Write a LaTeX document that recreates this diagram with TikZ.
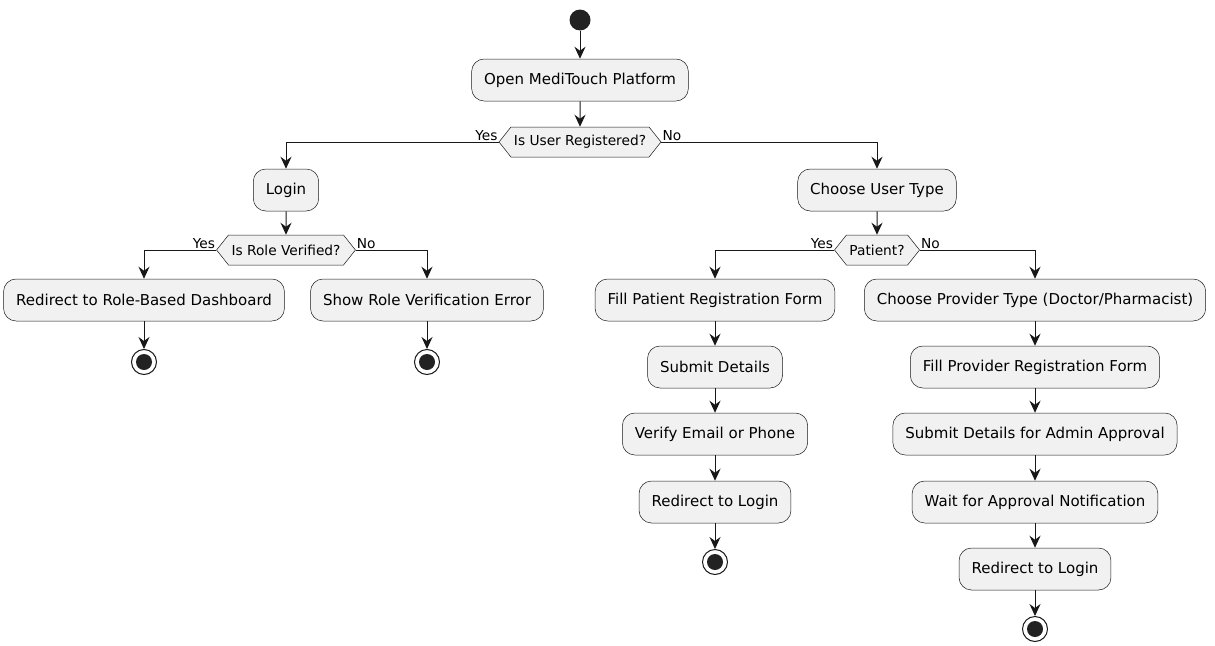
\documentclass[tikz,border=0pt]{standalone}
\usepackage{fontspec}
\setmainfont{DejaVu Sans}
\usetikzlibrary{shapes.symbols,arrows.meta}
\definecolor{boxfill}{HTML}{F1F1F1}
\definecolor{ink}{HTML}{181818}
\definecolor{dot}{HTML}{222222}
\begin{document}
\begin{tikzpicture}[x=1pt,y=-1pt,
  act/.style={draw=ink,line width=0.5pt,fill=boxfill,rounded corners=12.5pt,minimum height=42pt,inner xsep=12.5pt,font=\fontsize{15}{17}\selectfont},
  dec/.style={draw=ink,line width=0.5pt,fill=boxfill,shape=signal,signal to=west and east,signal pointer angle=103,minimum height=30pt,inner xsep=3pt,inner ysep=0pt,font=\fontsize{13.75}{16}\selectfont},
  arr/.style={draw=ink,line width=1pt,-{Stealth[length=12pt,width=11pt,inset=4pt]}},
  lbl/.style={font=\fontsize{13.75}{15}\selectfont,inner sep=1pt},
  startdot/.style={circle,fill=dot,minimum size=21pt,inner sep=0pt},
  enddot/.style={circle,draw=ink,line width=1pt,fill=white,minimum size=25pt,inner sep=0pt,path picture={\fill[dot] (path picture bounding box.center) circle (8pt);}}
]
\useasboundingbox (0,0) rectangle (1215,645);
\node[startdot] (start) at (580,20) {};
\node[act] (open) at (580,80) {Open MediTouch Platform};
\node[dec] (reg) at (580,142) {Is User Registered?};
\node[act] (login) at (286,190) {Login};
\node[dec] (role) at (286,250) {Is Role Verified?};
\node[act] (dash) at (144,300) {Redirect to Role-Based Dashboard};
\node[act] (err) at (427,300) {Show Role Verification Error};
\node[enddot] (e1) at (144,362) {};
\node[enddot] (e2) at (427,362) {};
\node[act] (type) at (877,190) {Choose User Type};
\node[dec] (pat) at (877,250) {Patient?};
\node[act] (fillp) at (715,300) {Fill Patient Registration Form};
\node[act] (subp) at (715,367) {Submit Details};
\node[act] (ver) at (715,434) {Verify Email or Phone};
\node[act] (redp) at (715,502) {Redirect to Login};
\node[enddot] (e3) at (715,562) {};
\node[act] (prov) at (1035,300) {Choose Provider Type (Doctor/Pharmacist)};
\node[act] (fillv) at (1035,367) {Fill Provider Registration Form};
\node[act] (subv) at (1035,434) {Submit Details for Admin Approval};
\node[act] (wait) at (1035,502) {Wait for Approval Notification};
\node[act] (redv) at (1035,569) {Redirect to Login};
\node[enddot] (e4) at (1035,629) {};

\draw[arr] (start) -- (open);
\draw[arr] (open) -- (reg);
\draw[arr] (reg.west) -| (login.north);
\draw[arr] (reg.east) -| (type.north);
\node[lbl,anchor=south east] at (reg.west) {Yes};
\node[lbl,anchor=south west] at (reg.east) {No};
\draw[arr] (login) -- (role);
\draw[arr] (role.west) -| (dash.north);
\draw[arr] (role.east) -| (err.north);
\node[lbl,anchor=south east] at (role.west) {Yes};
\node[lbl,anchor=south west] at (role.east) {No};
\draw[arr] (dash) -- (e1);
\draw[arr] (err) -- (e2);
\draw[arr] (type) -- (pat);
\draw[arr] (pat.west) -| (fillp.north);
\draw[arr] (pat.east) -| (prov.north);
\node[lbl,anchor=south east] at (pat.west) {Yes};
\node[lbl,anchor=south west] at (pat.east) {No};
\draw[arr] (fillp) -- (subp);
\draw[arr] (subp) -- (ver);
\draw[arr] (ver) -- (redp);
\draw[arr] (redp) -- (e3);
\draw[arr] (prov) -- (fillv);
\draw[arr] (fillv) -- (subv);
\draw[arr] (subv) -- (wait);
\draw[arr] (wait) -- (redv);
\draw[arr] (redv) -- (e4);
\end{tikzpicture}
\end{document}
